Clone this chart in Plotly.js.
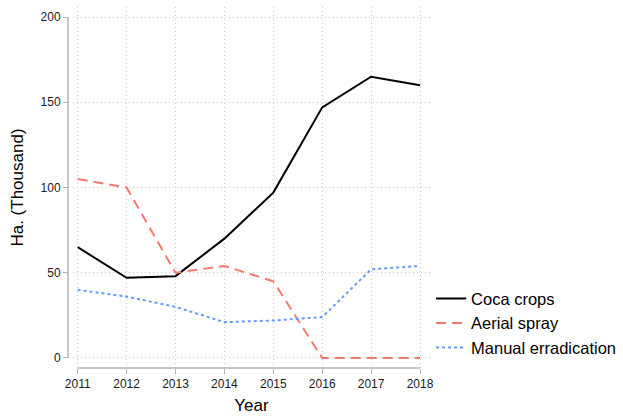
<!DOCTYPE html>
<html><head><meta charset="utf-8">
<script src="https://cdn.plot.ly/plotly-3.0.1.min.js"></script>
<style>html,body{margin:0;padding:0;background:#fff}#chart{width:623px;height:417px}</style>
</head><body><div id="chart"></div>
<script>
const years = [2011, 2012, 2013, 2014, 2015, 2016, 2017, 2018];
const cocaCrops = [65, 47, 48, 70, 97, 147, 165, 160];
const aerialSpray = [105, 100, 50, 54, 45, 0, 0, 0];
const manualErradication = [40, 36, 30, 21, 22, 24, 52, 54];
const yTicks = [0, 50, 100, 150, 200];

const traces = [
  {x: years, y: cocaCrops, name: 'Coca crops', mode: 'lines', line: {color: '#000000', width: 2}},
  {x: years, y: aerialSpray, name: 'Aerial spray', mode: 'lines', line: {color: '#F8766D', width: 2, dash: '10px,6px'}},
  {x: years, y: manualErradication, name: 'Manual erradication', mode: 'lines', line: {color: '#619CFF', width: 2, dash: 'dot'}}
];
const axisGray = '#b3b3b3';
const layout = {
  width: 623, height: 417,
  margin: {l: 68, r: 193, t: 7, b: 49, autoexpand: false},
  paper_bgcolor: '#fff', plot_bgcolor: '#fff',
  font: {family: 'Liberation Sans, Arial, sans-serif', color: '#1a1a1a', size: 12},
  showlegend: true,
  legend: {x: 1.003, xanchor: 'left', y: 0.24, yanchor: 'top', font: {size: 16.5, color: '#000'}, bgcolor: 'rgba(0,0,0,0)', tracegroupgap: 0},
  xaxis: {
    domain: [0.0138, 1], range: [2010.904, 2018.204],
    tickvals: years, ticktext: years.map(String),
    showline: false, zeroline: false,
    showgrid: true, gridcolor: '#c8c8c8', griddash: '1px,3px', gridwidth: 1,
    ticks: 'outside', ticklen: 5, tickcolor: axisGray, tickfont: {size: 12, color: '#1a1a1a'},
    title: {text: 'Year', font: {size: 17, color: '#000'}, standoff: 8}
  },
  yaxis: {
    anchor: 'free', position: 0,
    range: [-5.87, 205.87],
    tickvals: yTicks, ticktext: yTicks.map(String),
    showline: false, zeroline: false,
    showgrid: true, gridcolor: '#c8c8c8', griddash: '1px,3px', gridwidth: 1,
    ticks: 'outside', ticklen: 5, tickcolor: axisGray, tickfont: {size: 12, color: '#1a1a1a'},
    title: {text: 'Ha. (Thousand)', font: {size: 17, color: '#000'}, standoff: 11}
  },
  shapes: [
    {type: 'line', xref: 'paper', yref: 'y', x0: 0, x1: 0, y0: 0, y1: 200, line: {color: axisGray, width: 1.5}},
    {type: 'line', xref: 'x', yref: 'paper', x0: 2011, x1: 2018, y0: 0, y1: 0, line: {color: axisGray, width: 1.5}}
  ]
};
Plotly.newPlot('chart', traces, layout, {displayModeBar: false, staticPlot: true});
</script></body></html>
